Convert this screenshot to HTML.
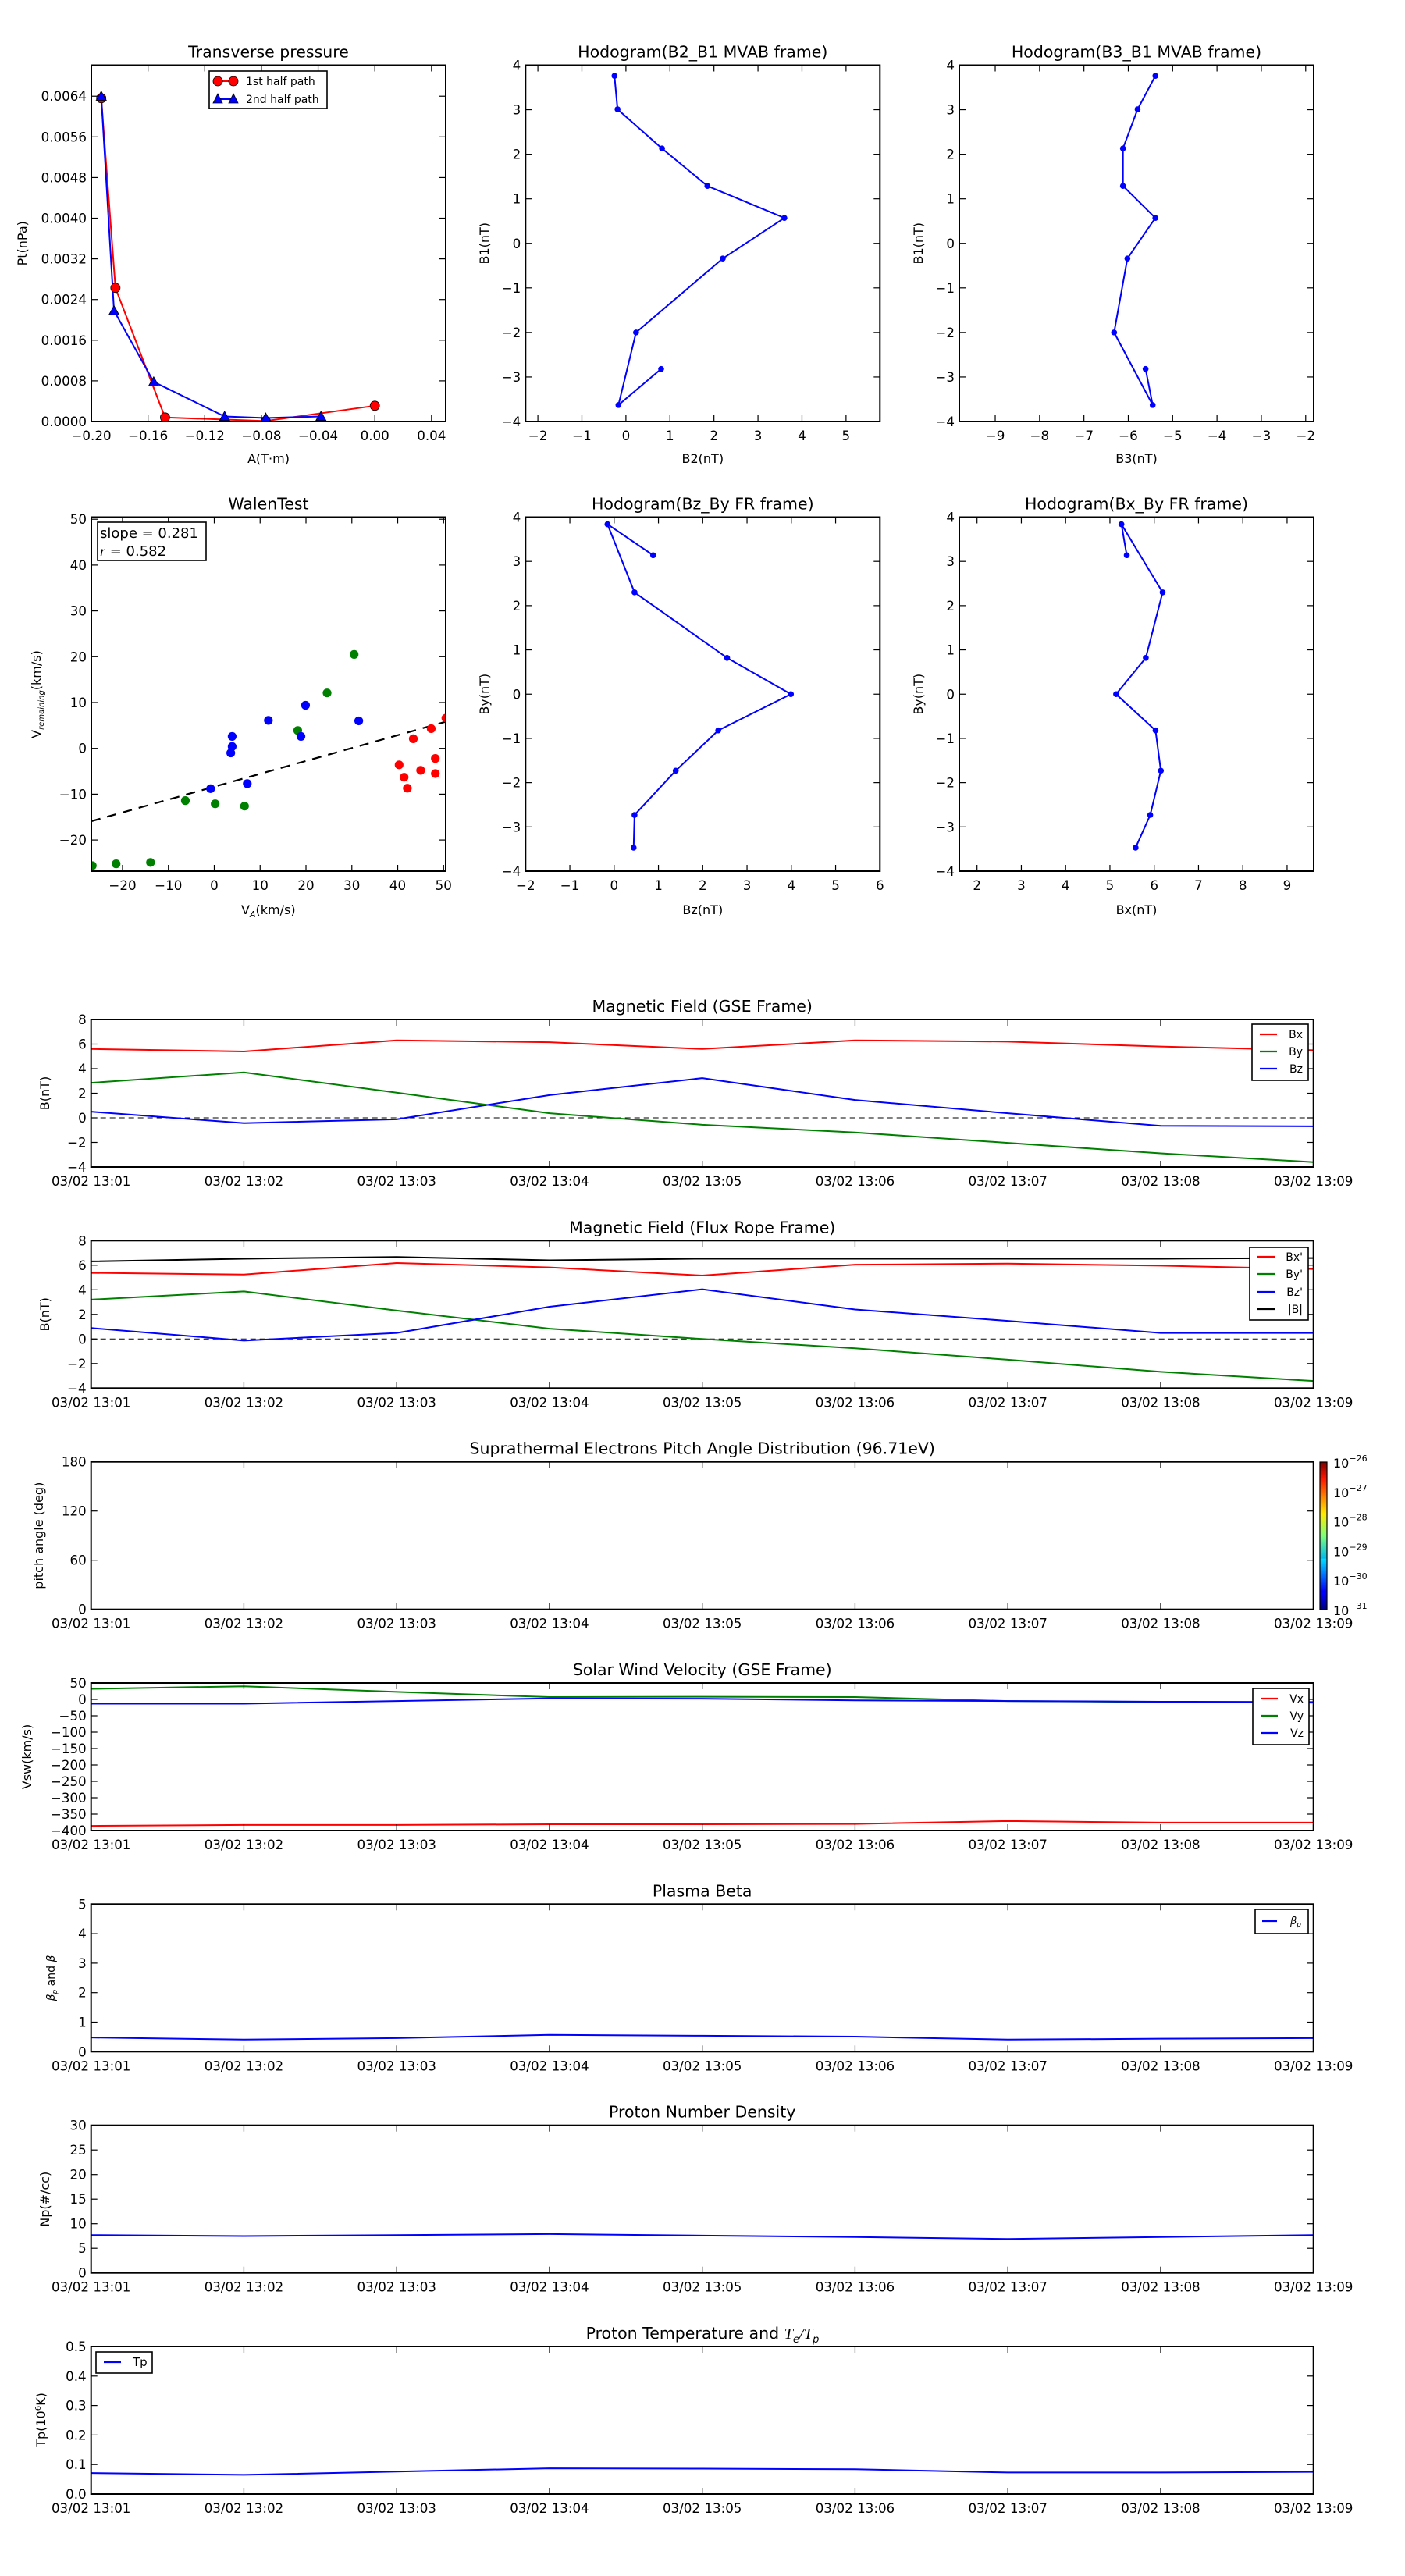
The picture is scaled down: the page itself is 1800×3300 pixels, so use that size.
<!DOCTYPE html>
<html><head><meta charset="utf-8"><title>Flux rope analysis</title>
<style>
html,body{margin:0;padding:0;background:#fff;}
svg{display:block;font-family:"DejaVu Sans","Liberation Sans",sans-serif;}
</style></head>
<body>
<svg id="fig" xmlns="http://www.w3.org/2000/svg" width="1800" height="3300" viewBox="0 0 1800 3300">
<rect x="0" y="0" width="1800" height="3300" fill="#fff"/>
</svg>
<script>
// ---------- DATA ----------
const tpRedA=[-0.193,-0.183,-0.148,-0.077,0.0];
const tpRedP=[0.00636,0.00263,0.00008,0.00001,0.00031];
const tpBlueA=[-0.193,-0.184,-0.156,-0.106,-0.077,-0.038];
const tpBlueP=[0.0064,0.00218,0.00078,0.0001,0.00007,0.0001];
const mvB2=[0.8,-0.17,0.23,2.2,3.6,1.85,0.82,-0.19,-0.26];
const mvB3=[-5.61,-5.45,-6.32,-6.02,-5.39,-6.12,-6.12,-5.79,-5.39];
const mvB1=[-2.82,-3.63,-2.0,-0.34,0.57,1.29,2.13,3.01,3.76];
const frBz=[0.88,-0.15,0.46,2.55,3.99,2.35,1.39,0.46,0.44];
const frBx=[5.38,5.26,6.19,5.81,5.14,6.03,6.15,5.91,5.58];
const frBy=[3.14,3.84,2.30,0.82,0,-0.82,-1.73,-2.73,-3.47];
const walenGreenX=[-26.6,-21.4,-13.9,-6.3,0.2,6.6,18.2,24.6,30.5];
const walenGreenY=[-25.6,-25.2,-24.9,-11.4,-12.1,-12.6,3.9,12.1,20.5];
const walenBlueX=[-0.8,3.6,3.9,3.9,7.2,11.8,18.9,19.9,31.5];
const walenBlueY=[-8.8,-1.0,0.4,2.6,-7.7,6.1,2.6,9.4,6.0];
const walenRedX=[40.3,41.4,42.1,43.4,45.0,47.3,48.2,48.2,50.5];
const walenRedY=[-3.6,-6.3,-8.7,2.1,-4.8,4.3,-2.2,-5.5,6.6];
const walenSlope=0.281;
const walenIntercept=-8.37;
const timeLabels=["03/02 13:01","03/02 13:02","03/02 13:03","03/02 13:04","03/02 13:05","03/02 13:06","03/02 13:07","03/02 13:08","03/02 13:09"];
const gseBx=[5.6,5.4,6.3,6.15,5.6,6.3,6.2,5.8,5.5];
const gseBy=[2.85,3.7,2.05,0.37,-0.56,-1.19,-2.04,-2.89,-3.6];
const gseBz=[0.5,-0.43,-0.12,1.85,3.23,1.45,0.37,-0.65,-0.69];
const frpBx=[5.38,5.24,6.18,5.82,5.16,6.04,6.13,5.96,5.69];
const frpBy=[3.2,3.87,2.31,0.84,0,-0.76,-1.69,-2.67,-3.42];
const frpBz=[0.89,-0.13,0.49,2.62,4.04,2.4,1.47,0.49,0.49];
const frpB=[6.31,6.53,6.67,6.4,6.53,6.53,6.53,6.53,6.58];
const vswVx=[-386,-383,-383,-381,-381,-380,-371,-376,-376];
const vswVy=[32,40,23,7,8,7,-5,-8,-10];
const vswVz=[-13,-13,-5,3,2,-3,-5,-7,-8];
const betaP=[0.48,0.41,0.46,0.57,0.54,0.51,0.41,0.44,0.46];
const densNp=[7.7,7.5,7.7,7.9,7.6,7.3,6.9,7.3,7.7];
const tempTp=[0.071,0.065,0.076,0.087,0.086,0.084,0.073,0.073,0.075];
const cbarLabels=["−26","−27","−28","−29","−30","−31"];

// ---------- helpers ----------
const NS="http://www.w3.org/2000/svg";
const fig=document.getElementById('fig');
let clipN=0;
function mk(tag,attrs,parent,name,inter){
  const e=document.createElementNS(NS,tag);
  for(const k in attrs){e.setAttribute(k,attrs[k]);}
  
  
  (parent||fig).appendChild(e);
  return e;
}
function txt(s,x,y,size,anchor,parent,name,extra){
  const a=Object.assign({x:x,y:y,'font-size':size,'text-anchor':anchor||'middle',fill:'#000'},extra||{});
  const t=mk('text',a,parent,name,false);
  t.textContent=s;
  return t;
}
function fmt(v,dec){let s=v.toFixed(dec);if(v<-1e-12)s='−'+s.slice(1);if(/^−0(\.0*)?$/.test(s))s=s.slice(1);return s;}

function axes(o){
  const g=mk('g',{},fig,o.name,false);
  const sx=v=>o.x0+(v-o.xmin)/(o.xmax-o.xmin)*o.w;
  const sy=v=>o.y0+o.h-(v-o.ymin)/(o.ymax-o.ymin)*o.h;
  const id='clip'+(clipN++);
  const cp=mk('clipPath',{id:id},g,o.name+'-clip',false);
  mk('rect',{x:o.x0,y:o.y0,width:o.w,height:o.h},cp,o.name+'-clip-rect',false);
  const data=mk('g',{'clip-path':'url(#'+id+')'},g,o.name+'-plot-area',false);
  const tk=8;
  o.xticks.forEach((v,i)=>{
    const x=sx(v);
    mk('line',{x1:x,x2:x,y1:o.y0+o.h,y2:o.y0+o.h-tk,stroke:'#000','stroke-width':1.2},g,'x-tick',false);
    mk('line',{x1:x,x2:x,y1:o.y0,y2:o.y0+tk,stroke:'#000','stroke-width':1.2},g,'x-tick-top',false);
    txt(o.xlabels[i],x,o.y0+o.h+24,16.7,'middle',g,'x-tick-label');
  });
  o.yticks.forEach((v,i)=>{
    const y=sy(v);
    mk('line',{x1:o.x0,x2:o.x0+tk,y1:y,y2:y,stroke:'#000','stroke-width':1.2},g,'y-tick',false);
    mk('line',{x1:o.x0+o.w,x2:o.x0+o.w-tk,y1:y,y2:y,stroke:'#000','stroke-width':1.2},g,'y-tick-right',false);
    txt(o.ylabels[i],o.x0-6,y+6,16.7,'end',g,'y-tick-label');
  });
  if(o.title){txt(o.title,o.x0+o.w/2,o.y0-10,20.5,'middle',g,'chart-title');}
  if(o.xtitle){txt(o.xtitle,o.x0+o.w/2,o.xtitleY||(o.y0+o.h+56),16,'middle',g,'x-axis-title');}
  if(o.ytitle){const t=txt(o.ytitle,0,0,16,'middle',g,'y-axis-title');t.setAttribute('transform','translate('+(o.ytitleX)+','+(o.y0+o.h/2)+') rotate(-90)');}
  mk('rect',{x:o.x0,y:o.y0,width:o.w,height:o.h,fill:'none',stroke:'#000','stroke-width':2},g,o.name+'-frame',false);
  return {sx,sy,g,data};
}
function line(ax,xs,ys,color,name,width,dash){
  const pts=xs.map((x,i)=>ax.sx(x).toFixed(2)+','+ax.sy(ys[i]).toFixed(2)).join(' ');
  const a={points:pts,fill:'none',stroke:color,'stroke-width':width||2,'stroke-linejoin':'round'};
  if(dash)a['stroke-dasharray']=dash;
  return mk('polyline',a,ax.data,name,false);
}
function dots(ax,xs,ys,color,r,name,edge){
  xs.forEach((x,i)=>{
    const a={cx:ax.sx(x),cy:ax.sy(ys[i]),r:r,fill:color};
    if(edge){a.stroke='#000';a['stroke-width']=0.8;}
    mk('circle',a,ax.data,name,false);
  });
}
function tris(ax,xs,ys,color,s,name){
  xs.forEach((x,i)=>{
    const cx=ax.sx(x),cy=ax.sy(ys[i]);
    mk('polygon',{points:(cx)+','+(cy-s)+' '+(cx-s)+','+(cy+s*0.8)+' '+(cx+s)+','+(cy+s*0.8),fill:color,stroke:'#000','stroke-width':0.8},ax.data,name,false);
  });
}
function range(a,b,s){const r=[];for(let v=a;v<=b+1e-9;v+=s)r.push(+v.toFixed(6));return r;}

const COLX=[117,673.3,1229], COLW=454;
const ROW1Y=83.5, ROW1H=456.5, ROW2Y=662.5, ROW2H=453.5;

// ---------- Transverse pressure ----------
{
const xt=range(-0.2,0.04,0.04), yt=range(0,0.0064,0.0008);
const ax=axes({name:'transverse-pressure-chart',x0:COLX[0],y0:ROW1Y,w:COLW,h:ROW1H,xmin:-0.2,xmax:0.05,ymin:0,ymax:0.00701,
 xticks:xt,xlabels:xt.map(v=>fmt(v,2)),yticks:yt,ylabels:yt.map(v=>fmt(v,4)),
 title:'Transverse pressure',xtitle:'A(T·m)',xtitleY:593,ytitle:'Pt(nPa)',ytitleX:34});
line(ax,tpRedA,tpRedP,'#ff0000','first-half-path-line',2);
line(ax,tpBlueA,tpBlueP,'#0000ff','second-half-path-line',2);
dots(ax,tpRedA,tpRedP,'#ff0000',6,'first-half-path-marker',true);
tris(ax,tpBlueA,tpBlueP,'#0000ff',6.5,'second-half-path-marker');
const lg=mk('g',{},ax.g,'legend',false);
mk('rect',{x:268,y:91,width:151,height:48,fill:'#fff',stroke:'#000','stroke-width':1.6},lg,'legend-box',false);
mk('line',{x1:279,x2:299,y1:104,y2:104,stroke:'#ff0000','stroke-width':2},lg,'legend-entry-line-1st',false);
mk('circle',{cx:279,cy:104,r:6,fill:'#ff0000',stroke:'#000','stroke-width':0.8},lg,'legend-marker-1st',false);
mk('circle',{cx:299,cy:104,r:6,fill:'#ff0000',stroke:'#000','stroke-width':0.8},lg,'legend-marker-1st',false);
txt('1st half path',315,109,14,'start',lg,'legend-entry-1st');
mk('line',{x1:279,x2:299,y1:127,y2:127,stroke:'#0000ff','stroke-width':2},lg,'legend-entry-line-2nd',false);
mk('polygon',{points:'279,120 273,132 285,132',fill:'#0000ff',stroke:'#000','stroke-width':0.8},lg,'legend-marker-2nd',false);
mk('polygon',{points:'299,120 293,132 305,132',fill:'#0000ff',stroke:'#000','stroke-width':0.8},lg,'legend-marker-2nd',false);
txt('2nd half path',315,132,14,'start',lg,'legend-entry-2nd');
}
// ---------- Hodogram B2_B1 ----------
{
const xt=range(-2,5,1), yt=range(-4,4,1);
const ax=axes({name:'hodogram-b2-b1-chart',x0:COLX[1],y0:ROW1Y,w:COLW,h:ROW1H,xmin:-2.28,xmax:5.77,ymin:-4,ymax:4,
 xticks:xt,xlabels:xt.map(v=>fmt(v,0)),yticks:yt,ylabels:yt.map(v=>fmt(v,0)),
 title:'Hodogram(B2_B1 MVAB frame)',xtitle:'B2(nT)',xtitleY:593,ytitle:'B1(nT)',ytitleX:626});
line(ax,mvB2,mvB1,'#0000ff','hodogram-b2-b1-line',2);
dots(ax,mvB2,mvB1,'#0000ff',3.8,'hodogram-b2-b1-point');
}
// ---------- Hodogram B3_B1 ----------
{
const xt=range(-9,-2,1), yt=range(-4,4,1);
const ax=axes({name:'hodogram-b3-b1-chart',x0:COLX[2],y0:ROW1Y,w:COLW,h:ROW1H,xmin:-9.81,xmax:-1.82,ymin:-4,ymax:4,
 xticks:xt,xlabels:xt.map(v=>fmt(v,0)),yticks:yt,ylabels:yt.map(v=>fmt(v,0)),
 title:'Hodogram(B3_B1 MVAB frame)',xtitle:'B3(nT)',xtitleY:593,ytitle:'B1(nT)',ytitleX:1182});
line(ax,mvB3,mvB1,'#0000ff','hodogram-b3-b1-line',2);
dots(ax,mvB3,mvB1,'#0000ff',3.8,'hodogram-b3-b1-point');
}
// ---------- Walen test ----------
{
const xt=range(-20,50,10), yt=range(-20,50,10);
const ax=axes({name:'walen-test-chart',x0:COLX[0],y0:ROW2Y,w:COLW,h:ROW2H,xmin:-26.8,xmax:50.46,ymin:-26.8,ymax:50.46,
 xticks:xt,xlabels:xt.map(v=>fmt(v,0)),yticks:yt,ylabels:yt.map(v=>fmt(v,0)),
 title:'WalenTest',ytitleX:56});
const xl=mk('text',{x:ax.sx(11.8),y:1171,'font-size':16,'text-anchor':'middle'},ax.g,'x-axis-title',false);
xl.innerHTML='V<tspan font-size="11" dy="4" font-style="italic">A</tspan><tspan dy="-4">(km/s)</tspan>';
const yl=mk('text',{'font-size':16,'text-anchor':'middle',transform:'translate(52,'+(ROW2Y+227)+') rotate(-90)'},ax.g,'y-axis-title',false);
yl.innerHTML='V<tspan font-size="10" dy="4" font-style="italic">remaining</tspan><tspan dy="-4">(km/s)</tspan>';
const fx=[-26.8,50.46];
line(ax,fx,fx.map(v=>walenIntercept+walenSlope*v),'#000','walen-fit-line',2.2,'12,9');
dots(ax,walenGreenX,walenGreenY,'#008000',5.6,'walen-point-green');
dots(ax,walenBlueX,walenBlueY,'#0000ff',5.6,'walen-point-blue');
dots(ax,walenRedX,walenRedY,'#ff0000',5.6,'walen-point-red');
const bx=mk('g',{},ax.g,'slope-annotation',false);
mk('rect',{x:125,y:669,width:139,height:49,fill:'#fff',stroke:'#000','stroke-width':1.6},bx,'annotation-box',false);
txt('slope = '+walenSlope.toFixed(3),128,689,18,'start',bx,'slope-text');
const rt=mk('text',{x:128,y:712,'font-size':18},bx,'r-text',false);
rt.innerHTML='<tspan font-style="italic" font-family="Liberation Serif, serif">r</tspan> = 0.582';
}
// ---------- Hodogram Bz_By FR ----------
{
const xt=range(-2,6,1), yt=range(-4,4,1);
const ax=axes({name:'hodogram-bz-by-chart',x0:COLX[1],y0:ROW2Y,w:COLW,h:ROW2H,xmin:-2,xmax:6,ymin:-4,ymax:4,
 xticks:xt,xlabels:xt.map(v=>fmt(v,0)),yticks:yt,ylabels:yt.map(v=>fmt(v,0)),
 title:'Hodogram(Bz_By FR frame)',xtitle:'Bz(nT)',xtitleY:1171,ytitle:'By(nT)',ytitleX:626});
line(ax,frBz,frBy,'#0000ff','hodogram-bz-by-line',2);
dots(ax,frBz,frBy,'#0000ff',3.8,'hodogram-bz-by-point');
}
// ---------- Hodogram Bx_By FR ----------
{
const xt=range(2,9,1), yt=range(-4,4,1);
const ax=axes({name:'hodogram-bx-by-chart',x0:COLX[2],y0:ROW2Y,w:COLW,h:ROW2H,xmin:1.6,xmax:9.6,ymin:-4,ymax:4,
 xticks:xt,xlabels:xt.map(v=>fmt(v,0)),yticks:yt,ylabels:yt.map(v=>fmt(v,0)),
 title:'Hodogram(Bx_By FR frame)',xtitle:'Bx(nT)',xtitleY:1171,ytitle:'By(nT)',ytitleX:1182});
line(ax,frBx,frBy,'#0000ff','hodogram-bx-by-line',2);
dots(ax,frBx,frBy,'#0000ff',3.8,'hodogram-bx-by-point');
}
// ---------- time series ----------
const tIdx=timeLabels.map((s,i)=>i);
function tsAxes(name,y0,ymin,ymax,yt,ylabels,title,ytitle,ytx){
  return axes({name:name,x0:116.7,y0:y0,w:1566,h:189,xmin:0,xmax:8,ymin:ymin,ymax:ymax,
   xticks:tIdx,xlabels:timeLabels,yticks:yt,ylabels:ylabels,title:title,ytitle:ytitle,ytitleX:ytx||63});
}
function legend(ax,x,y,w,h,rowY,items,name){
  const lg=mk('g',{},ax.g,name,false);
  mk('rect',{x:x,y:y,width:w,height:h,fill:'#fff',stroke:'#000','stroke-width':1.6},lg,'legend-box',false);
  items.forEach((it,i)=>{
    mk('line',{x1:x+10,x2:x+32,y1:rowY[i],y2:rowY[i],stroke:it[1],'stroke-width':2.2},lg,'legend-swatch',false);
    txt(it[0],x+w-7,rowY[i]+5,14,'end',lg,'legend-entry');
  });
}
{
const yt=range(-4,8,2);
const ax=tsAxes('magnetic-field-gse-chart',1306,-4,8,yt,yt.map(v=>fmt(v,0)),'Magnetic Field (GSE Frame)','B(nT)',63);
line(ax,[0,8],[0,0],'#000','zero-line',1,'7,5');
line(ax,tIdx,gseBx,'#ff0000','bx-line');
line(ax,tIdx,gseBy,'#008000','by-line');
line(ax,tIdx,gseBz,'#0000ff','bz-line');
legend(ax,1604,1312,72,72,[1325,1347,1369],[['Bx','#ff0000'],['By','#008000'],['Bz','#0000ff']],'gse-legend');
}
{
const yt=range(-4,8,2);
const ax=tsAxes('magnetic-field-flux-rope-chart',1589.3,-4,8,yt,yt.map(v=>fmt(v,0)),'Magnetic Field (Flux Rope Frame)','B(nT)',63);
line(ax,[0,8],[0,0],'#000','zero-line',1,'7,5');
line(ax,tIdx,frpBx,'#ff0000','bx-prime-line');
line(ax,tIdx,frpBy,'#008000','by-prime-line');
line(ax,tIdx,frpBz,'#0000ff','bz-prime-line');
line(ax,tIdx,frpB,'#000','b-magnitude-line');
legend(ax,1601,1598,75,93,[1610,1632,1655,1677],[["Bx'",'#ff0000'],["By'",'#008000'],["Bz'",'#0000ff'],['|B|','#000']],'flux-rope-legend');
}
{
const yt=[0,60,120,180];
tsAxes('pitch-angle-chart',1872.7,0,180,yt,yt.map(v=>fmt(v,0)),'Suprathermal Electrons Pitch Angle Distribution (96.71eV)','pitch angle (deg)',55);
const defs=mk('defs',{},fig,'colorbar-defs',false);
const gr=mk('linearGradient',{id:'jet',x1:0,y1:1,x2:0,y2:0},defs,'jet-gradient',false);
[['0','#00007f'],['0.11','#0000ff'],['0.125','#0000ff'],['0.34','#00dcff'],['0.35','#0be'],['0.5','#7dff7a'],['0.65','#ffea00'],['0.89','#ff1300'],['1','#7f0000']].forEach(s=>{
  mk('stop',{offset:s[0],'stop-color':s[1]},gr,'gradient-stop',false);
});
const cb=mk('g',{},fig,'colorbar',false);
mk('rect',{x:1691,y:1873,width:9,height:189,fill:'url(#jet)',stroke:'#000','stroke-width':1.2},cb,'colorbar-strip',false);
cbarLabels.forEach((l,i)=>{
  const y=1873+i*189/5;
  const t=mk('text',{x:1708,y:y+7,'font-size':16},cb,'colorbar-tick-label',false);
  t.innerHTML='10<tspan font-size="11" dy="-8">'+l+'</tspan>';
});
}
{
const yt=range(-400,50,50);
const ax=tsAxes('solar-wind-velocity-chart',2156,-400,50,yt,yt.map(v=>fmt(v,0)),'Solar Wind Velocity (GSE Frame)','Vsw(km/s)',40);
line(ax,tIdx,vswVx,'#ff0000','vx-line');
line(ax,tIdx,vswVy,'#008000','vy-line');
line(ax,tIdx,vswVz,'#0000ff','vz-line');
legend(ax,1605,2163,72,72,[2176,2198,2220],[['Vx','#ff0000'],['Vy','#008000'],['Vz','#0000ff']],'velocity-legend');
}
{
const yt=range(0,5,1);
const ax=tsAxes('plasma-beta-chart',2439.3,0,5,yt,yt.map(v=>fmt(v,0)),'Plasma Beta','');
const yl=mk('text',{'font-size':14,'text-anchor':'middle',transform:'translate(70,2534) rotate(-90)'},ax.g,'y-axis-title',false);
yl.innerHTML='<tspan font-style="italic">β</tspan><tspan font-size="9" dy="3" font-style="italic">p</tspan><tspan dy="-3"> and </tspan><tspan font-style="italic">β</tspan>';
line(ax,tIdx,betaP,'#0000ff','beta-p-line');
const lg=mk('g',{},ax.g,'beta-legend',false);
mk('rect',{x:1608,y:2446,width:68,height:31,fill:'#fff',stroke:'#000','stroke-width':1.6},lg,'legend-box',false);
mk('line',{x1:1617,x2:1636,y1:2461,y2:2461,stroke:'#0000ff','stroke-width':2.2},lg,'legend-swatch',false);
const t=mk('text',{x:1653,y:2465,'font-size':13,'font-style':'italic'},lg,'legend-entry',false);
t.innerHTML='β<tspan font-size="9" dy="3">p</tspan>';
}
{
const yt=range(0,30,5);
const ax=tsAxes('proton-density-chart',2722.7,0,30,yt,yt.map(v=>fmt(v,0)),'Proton Number Density','Np(#/cc)',63);
line(ax,tIdx,densNp,'#0000ff','np-line');
}
{
const yt=range(0,0.5,0.1);
const ax=tsAxes('proton-temperature-chart',3006,0,0.5,yt,yt.map(v=>fmt(v,1)),'','');
const tt=mk('text',{x:900,y:2996,'font-size':20.5,'text-anchor':'middle'},ax.g,'chart-title',false);
tt.innerHTML='Proton Temperature and <tspan font-family="Liberation Serif, serif" font-style="italic">T</tspan><tspan font-size="13" dy="5" font-style="italic">e</tspan><tspan dy="-5" font-family="Liberation Serif, serif" font-style="italic">/T</tspan><tspan font-size="13" dy="5" font-style="italic">p</tspan>';
const yl=mk('text',{'font-size':16,'text-anchor':'middle',transform:'translate(58,3100) rotate(-90)'},ax.g,'y-axis-title',false);
yl.innerHTML='Tp(10<tspan font-size="10" dy="-6">6</tspan><tspan dy="6">K)</tspan>';
line(ax,tIdx,tempTp,'#0000ff','tp-line');
const lg=mk('g',{},ax.g,'tp-legend',false);
mk('rect',{x:123,y:3013,width:72,height:27,fill:'#fff',stroke:'#000','stroke-width':1.6},lg,'legend-box',false);
mk('line',{x1:133,x2:155,y1:3026,y2:3026,stroke:'#0000ff','stroke-width':2.2},lg,'legend-swatch',false);
txt('Tp',170,3031,15,'start',lg,'legend-entry');
}
</script>
</body></html>
